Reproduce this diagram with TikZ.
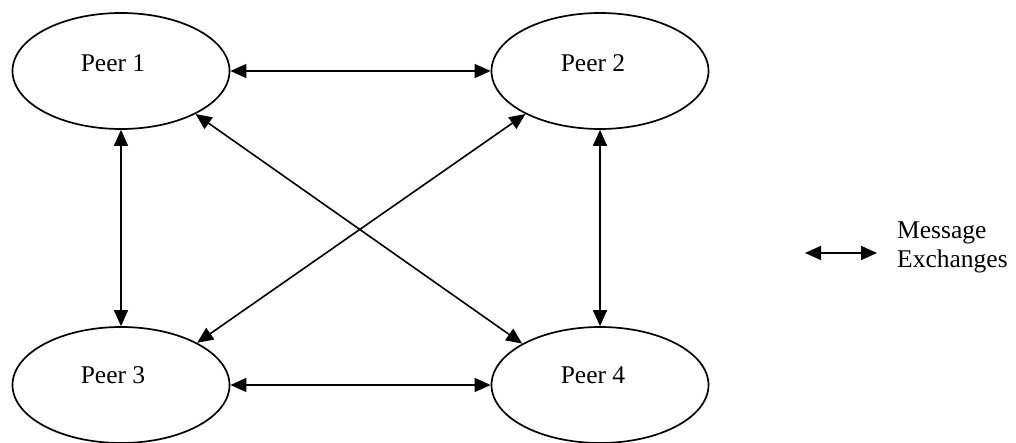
\documentclass[tikz,border=0pt]{standalone}
\usepackage{fontspec}
\setmainfont{Liberation Serif}
\usetikzlibrary{shapes.geometric,arrows.meta}
\begin{document}
\begin{tikzpicture}[x=1pt,y=-1pt,
  peer/.style={ellipse,draw,line width=1.7pt,minimum width=217pt,minimum height=116pt,inner sep=0pt},
  peertext/.style={font=\fontsize{25.5}{29}\selectfont,inner sep=0pt},
  msgarrow/.style={{Triangle[length=16pt,width=14pt]}-{Triangle[length=16pt,width=14pt]},line width=1.6pt,shorten <=0pt,shorten >=0pt}
]
\useasboundingbox (0,0) rectangle (1016,443);
\node[peer] (p1) at (121,71) {};
\node[peer] (p2) at (600,71) {};
\node[peer] (p3) at (121,385) {};
\node[peer] (p4) at (600,385) {};
\node[peertext] (t1) at ([xshift=-8pt,yshift=8pt]p1.center) {Peer 1};
\node[peertext] (t2) at ([xshift=-7pt,yshift=8pt]p2.center) {Peer 2};
\node[peertext] (t3) at ([xshift=-8pt,yshift=10pt]p3.center) {Peer 3};
\node[peertext] (t4) at ([xshift=-7pt,yshift=10pt]p4.center) {Peer 4};
\draw[msgarrow] (p1) -- (p2);
\draw[msgarrow] (p3) -- (p4);
\draw[msgarrow] (p1) -- (p3);
\draw[msgarrow] (p2) -- (p4);
\draw[msgarrow] (p1.-30) -- (p4.152);
\draw[msgarrow] (p2.210) -- (p3.29);
\coordinate (la) at (805,253);
\coordinate (lb) at (877,253);
\draw[msgarrow] (la) -- (lb);
\node[peertext,anchor=north west,align=left] (legend) at (897,222) {Message\\Exchanges};
\end{tikzpicture}
\end{document}
